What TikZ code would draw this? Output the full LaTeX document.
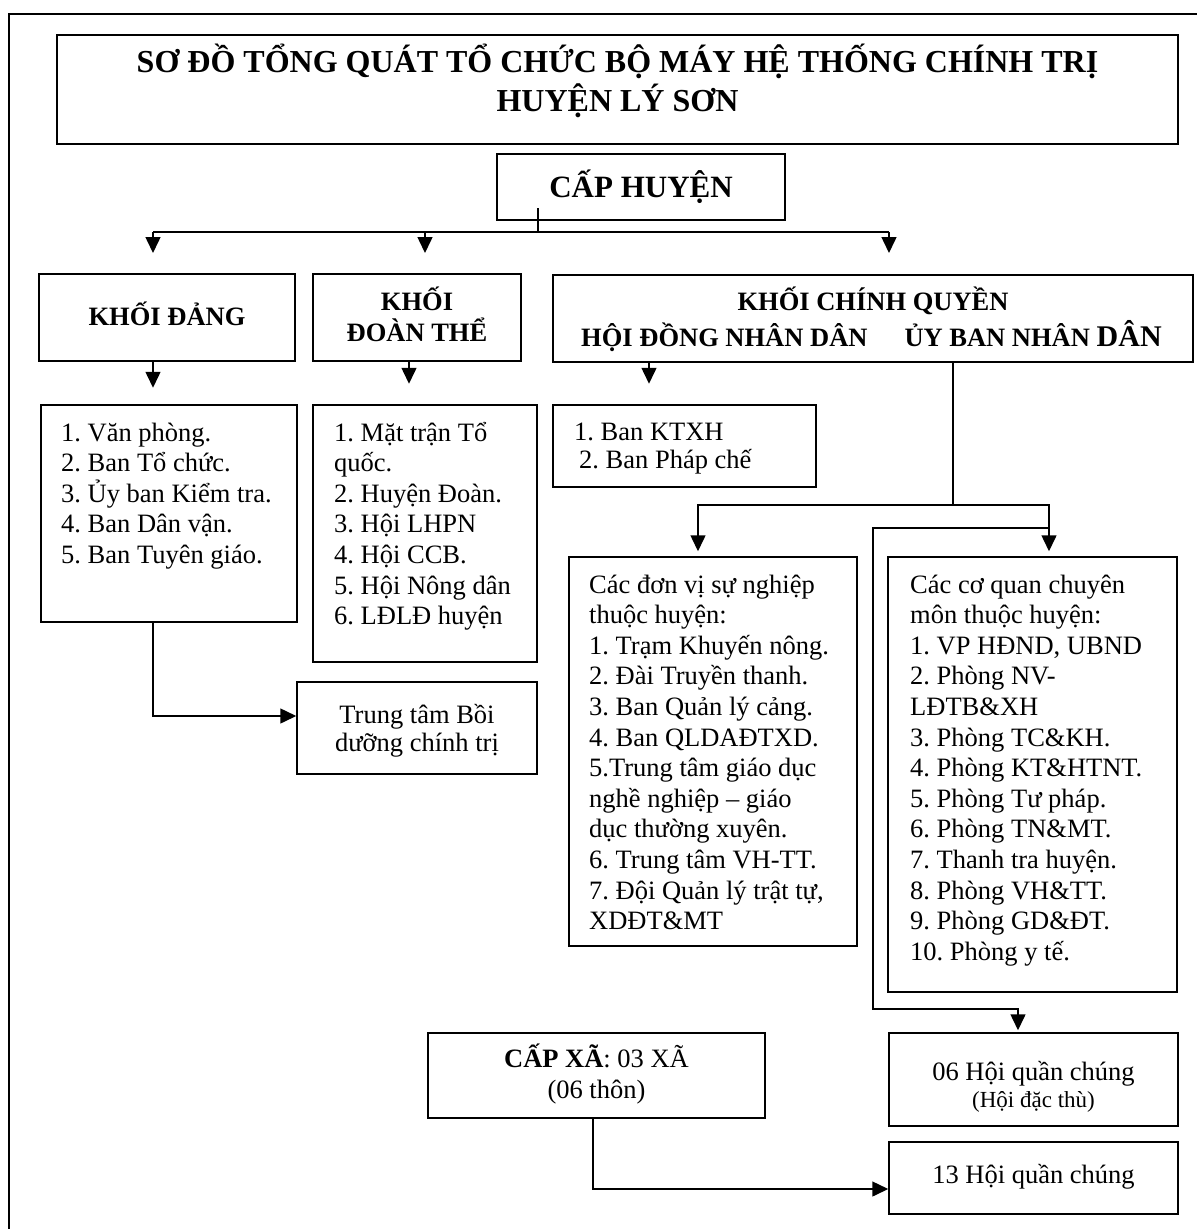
\documentclass[tikz,border=0pt]{standalone}
\usepackage{fontspec}
\setmainfont{Liberation Serif}
\usetikzlibrary{arrows.meta}
\frenchspacing
\newcommand{\lefttext}[1]{\parbox[t]{290pt}{\raggedright #1}}
\newcommand{\midtext}[2]{\parbox[t]{#1}{\centering #2}}
\tikzset{
  box/.style={draw, line width=1.5pt, inner sep=0pt},
  txt/.style={inner sep=0pt, anchor=base west, font=\fontsize{26.5}{30.6}\selectfont},
  ctext/.style={inner sep=0pt, anchor=base, font=\fontsize{26.5}{28}\selectfont},
  head/.style={inner sep=0pt, anchor=base, font=\bfseries\fontsize{26.5}{31}\selectfont},
  link/.style={line width=1.5pt},
  arr/.style={line width=1.5pt, -{Triangle[length=16pt,width=15pt]}},
}
\begin{document}
\begin{tikzpicture}[x=1pt, y=-1pt]
  \useasboundingbox (0,0) rectangle (1197,1229);
  \draw[line width=2pt] (9,1229) -- (9,14) -- (1197,14);

  \node[box, minimum width=1121pt, minimum height=109pt] (title) at (617.5,89.5) {};
  \node[head, font=\bfseries\fontsize{32}{39}\selectfont] (titletext) at (617.5,72)
    {\midtext{1100pt}{SƠ ĐỒ TỔNG QUÁT TỔ CHỨC BỘ MÁY HỆ THỐNG CHÍNH TRỊ\\HUYỆN LÝ SƠN}};
  \node[box, minimum width=288pt, minimum height=66pt] (caphuyen) at (641,187) {};
  \node[head, font=\bfseries\fontsize{31}{31}\selectfont] (caphuyentext) at (641,197) {CẤP HUYỆN};

  \node[box, minimum width=256pt, minimum height=87pt] (dang) at (167,317.5) {};
  \node[head] (dangtext) at (167,325) {KHỐI ĐẢNG};
  \node[box, minimum width=208pt, minimum height=87pt] (doan) at (417,317.5) {};
  \node[head] (doantext) at (417,310) {\midtext{200pt}{KHỐI\\ĐOÀN THỂ}};
  \node[box, minimum width=640pt, minimum height=87pt] (cq) at (873,318.5) {};
  \node[head] (cqtext) at (873,310) {KHỐI CHÍNH QUYỀN};
  \node[head, anchor=base west] (cqsub) at (581,346)
    {HỘI ĐỒNG NHÂN DÂN\hspace{37pt}ỦY BAN NHÂN {\fontsize{30}{30}\selectfont DÂN}};

  \node[box, minimum width=256pt, minimum height=217pt] (vanphong) at (169,513.5) {};
  \node[txt] (vanphongtext) at (61,441)
    {\lefttext{1. Văn phòng.\\2. Ban Tổ chức.\\3. Ủy ban Kiểm tra.\\4. Ban Dân vận.\\5. Ban Tuyên giáo.}};
  \node[box, minimum width=224pt, minimum height=257pt] (mattran) at (425,533.5) {};
  \node[txt] (mattrantext) at (334,441)
    {\lefttext{1. Mặt trận Tổ\\quốc.\\2. Huyện Đoàn.\\3. Hội LHPN\\4. Hội CCB.\\5. Hội Nông dân\\6. LĐLĐ huyện}};
  \node[box, minimum width=263pt, minimum height=82pt] (hdnd) at (684.5,446) {};
  \node[txt, font=\fontsize{26.5}{28}\selectfont] (hdndtext) at (574,440)
    {\lefttext{1. Ban KTXH\\\hspace*{5pt}2. Ban Pháp chế}};
  \node[box, minimum width=240pt, minimum height=92pt] (trungtam) at (417,728) {};
  \node[ctext] (trungtamtext) at (417,723) {\midtext{230pt}{Trung tâm Bồi\\dưỡng chính trị}};

  \node[box, minimum width=288pt, minimum height=389pt] (donvi) at (713,751.5) {};
  \node[txt] (donvitext) at (589,593)
    {\lefttext{Các đơn vị sự nghiệp\\thuộc huyện:\\1. Trạm Khuyến nông.\\2. Đài Truyền thanh.\\3. Ban Quản lý cảng.\\4. Ban QLDAĐTXD.\\5.Trung tâm giáo dục\\nghề nghiệp – giáo\\dục thường xuyên.\\6. Trung tâm VH-TT.\\7. Đội Quản lý trật tự,\\XDĐT\&MT}};
  \node[box, minimum width=289pt, minimum height=435pt] (coquan) at (1032.5,774.5) {};
  \node[txt] (coquantext) at (910,593)
    {\lefttext{Các cơ quan chuyên\\môn thuộc huyện:\\1. VP HĐND, UBND\\2. Phòng NV-\\LĐTB\&XH\\3. Phòng TC\&KH.\\4. Phòng KT\&HTNT.\\5. Phòng Tư pháp.\\6. Phòng TN\&MT.\\7. Thanh tra huyện.\\8. Phòng VH\&TT.\\9. Phòng GD\&ĐT.\\10. Phòng y tế.}};

  \node[box, minimum width=337pt, minimum height=85pt] (capxa) at (596.5,1075.5) {};
  \node[ctext, font=\fontsize{26.5}{31}\selectfont] (capxatext) at (596.5,1067)
    {\midtext{330pt}{\textbf{CẤP XÃ}: 03 XÃ\\(06 thôn)}};
  \node[box, minimum width=289pt, minimum height=93pt] (hoi06) at (1033.5,1079.5) {};
  \node[ctext] (hoi06text) at (1033.5,1080) {06 Hội quần chúng};
  \node[ctext, font=\fontsize{23}{23}\selectfont] (hoi06sub) at (1033.5,1107) {(Hội đặc thù)};
  \node[box, minimum width=289pt, minimum height=72pt] (hoi13) at (1033.5,1178) {};
  \node[ctext] (hoi13text) at (1033.5,1183) {13 Hội quần chúng};

  \coordinate (stub) at (538,208); \coordinate (hub) at (538,232);
  \coordinate (b1) at (153,232); \coordinate (b2) at (425,232); \coordinate (b3) at (889,232);
  \draw[link] (stub) -- (hub);
  \draw[link] (b1) -- (b3);
  \foreach \b in {b1,b2,b3} \draw[arr] (\b) -- ++(0,21);
  \draw[arr] ([xshift=-14pt]dang.south) -- ++(0,26);
  \draw[arr] ([xshift=-8pt]doan.south) -- ++(0,22);
  \draw[arr] ([xshift=-224pt]cq.south) -- ++(0,21);
  \coordinate (ub) at (953,505); \coordinate (lk) at (1049,528);
  \draw[link] ([xshift=80pt]cq.south) -- (ub);
  \draw[arr] (ub) -| ([xshift=-15pt,yshift=5pt]donvi.north);
  \draw[arr] (ub) -| ([xshift=16.5pt,yshift=5pt]coquan.north);
  \draw[arr] (lk) -| (873,1009) -| ([xshift=-15.5pt,yshift=2pt]hoi06.north);
  \draw[arr] ([xshift=-16pt]vanphong.south) |- ([yshift=12pt]trungtam.west);
  \draw[arr] ([xshift=-3.5pt]capxa.south) |- ([yshift=-11pt]hoi13.west);
\end{tikzpicture}
\end{document}
